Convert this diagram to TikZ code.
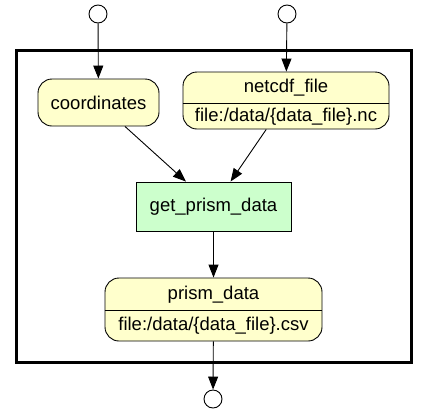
\documentclass[tikz,border=0pt]{standalone}
\usepackage{fontspec}
\setmainfont{Liberation Sans}
\usetikzlibrary{arrows.meta}
\definecolor{dataFill}{HTML}{FFFFCC}
\definecolor{procFill}{HTML}{CCFFCC}
\begin{document}
\begin{tikzpicture}[x=1pt,y=-1pt,
  every node/.style={font=\fontsize{18.5}{22}\selectfont, inner sep=0pt},
  databox/.style={draw=black, line width=0.9pt, fill=dataFill, rounded corners=14pt},
  procbox/.style={draw=black, line width=0.9pt, fill=procFill},
  port/.style={draw=black, line width=0.9pt, fill=white, circle, minimum size=18pt},
  flow/.style={line width=0.9pt, -{Triangle[length=13pt,width=10pt]}},
  txt/.style={inner sep=0pt}]
\useasboundingbox (0,0) rectangle (428,413);
\node[draw=black, line width=3pt, minimum width=395pt, minimum height=312pt] (frame) at (213.5,206) {};
\node[port] (in1) at (98,14) {};
\node[port] (in2) at (287,14) {};
\node[port] (out) at (213,399) {};
\node[databox, minimum width=121pt, minimum height=47pt] (coord) at (98.5,102.5) {coordinates};
\node[databox, minimum width=206pt, minimum height=57pt] (netcdf) at (286,100.5) {};
\draw[line width=0.9pt] (netcdf.west |- 0,103) -- (netcdf.east |- 0,103);
\node[txt] (netcdfT) at (286,88) {netcdf\_file};
\node[txt] (netcdfF) at (286,116.5) {file:/data/\{data\_file\}.nc};
\node[procbox, minimum width=155pt, minimum height=49pt] (gpd) at (213.5,206.5) {get\_prism\_data};
\node[databox, minimum width=217pt, minimum height=63pt] (prism) at (213.5,309.5) {};
\draw[line width=0.9pt] (prism.west |- 0,310) -- (prism.east |- 0,310);
\node[txt] (prismT) at (213.5,294.5) {prism\_data};
\node[txt] (prismF) at (213.5,326) {file:/data/\{data\_file\}.csv};
\draw[flow] (in1) -- (coord);
\draw[flow] (in2) -- (netcdf);
\draw[flow] (coord) -- (gpd);
\draw[flow] (netcdf) -- (gpd);
\draw[flow] (gpd) -- (prism);
\draw[flow] (prism) -- (out);
\end{tikzpicture}
\end{document}
